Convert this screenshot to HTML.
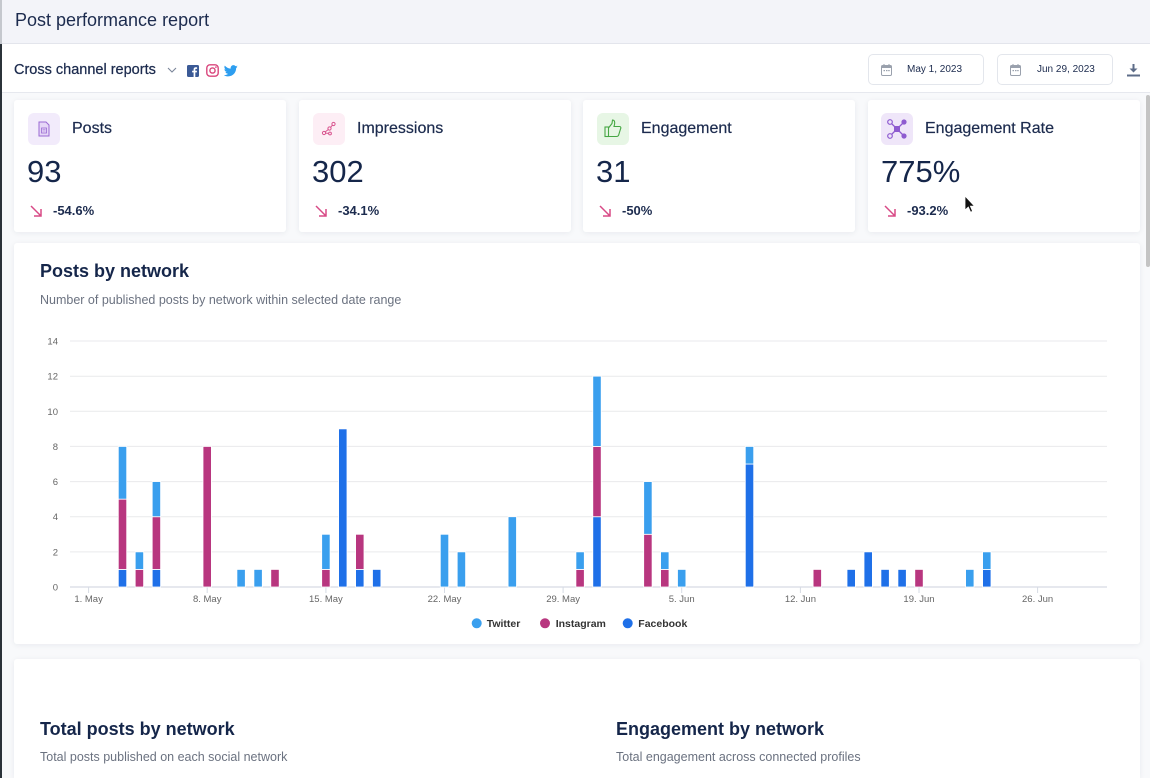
<!DOCTYPE html>
<html>
<head>
<meta charset="utf-8">
<style>
*{margin:0;padding:0;box-sizing:border-box;}
html,body{width:1150px;height:778px;overflow:hidden;background:#f8f9fb;font-family:"Liberation Sans",Arial,sans-serif;color:#1b2b4d;}
.abs{position:absolute;}
#hdr{left:0;top:0;width:1150px;height:44px;background:#f3f4f9;border-bottom:1px solid #e3e5ec;}
#hdr .t{position:absolute;left:15px;top:10px;font-size:18px;color:#1c2b4e;}
#bar{left:0;top:44px;width:1150px;height:49px;background:#fff;border-bottom:1px solid #e6e8ee;}
.ccr{position:absolute;left:14px;top:18px;font-size:14.5px;color:#1c2b4e;-webkit-text-stroke:0.25px #1c2b4e;}
.date{position:absolute;top:10px;height:31px;border:1px solid #e3e6ec;border-radius:5px;background:#fff;font-size:10px;color:#1c2b4e;}
.card{position:absolute;background:#fff;border-radius:3px;box-shadow:0 1px 6px rgba(30,40,70,0.07);}
.kpi .ib{position:absolute;left:14px;top:13px;width:32px;height:32px;border-radius:6px;}
.kpi .lb{position:absolute;left:58px;top:20px;font-size:16px;color:#1c2b4e;-webkit-text-stroke:0.2px #1c2b4e;}
.kpi .num{position:absolute;left:13px;top:54px;font-size:31px;color:#15264a;}
.kpi .ch{position:absolute;left:39px;top:103px;font-size:13px;font-weight:bold;color:#1c2b4e;}
.kpi svg.ar{position:absolute;left:15px;top:104px;}
.h2{position:absolute;font-size:18px;font-weight:bold;color:#15264a;}
.sub{position:absolute;font-size:12.5px;color:#6b7280;}
</style>
</head>
<body>
<div id="hdr" class="abs"><div class="t">Post performance report</div></div>
<div class="abs" style="left:0;top:0;width:2px;height:44px;background:#c5c8ce;"></div>

<div id="bar" class="abs">
  <div class="ccr">Cross channel reports</div>
  <svg class="abs" style="left:166px;top:22px" width="12" height="8" viewBox="0 0 12 8"><path d="M2 2 L6 6 L10 2" fill="none" stroke="#7a8599" stroke-width="1.1"/></svg>
  <svg class="abs" style="left:187px;top:21px" width="12" height="12" viewBox="0 0 12 12"><rect width="12" height="12" rx="1.5" fill="#3b5a96"/><path d="M8.3 12 V7.4 H9.8 L10 5.7 H8.3 V4.7 C8.3 4.2 8.5 3.9 9.1 3.9 H10.1 V2.4 C9.8 2.3 9.3 2.3 8.7 2.3 C7.4 2.3 6.6 3.1 6.6 4.5 V5.7 H5.1 V7.4 H6.6 V12 Z" fill="#fff"/></svg>
  <svg class="abs" style="left:206px;top:20px" width="13" height="13" viewBox="0 0 13 13"><rect x="0.8" y="0.8" width="11.4" height="11.4" rx="3.2" fill="none" stroke="#d9457c" stroke-width="1.4"/><circle cx="6.5" cy="6.5" r="2.6" fill="none" stroke="#d9457c" stroke-width="1.4"/><circle cx="9.9" cy="3.1" r="0.8" fill="#d9457c"/></svg>
  <svg class="abs" style="left:224px;top:21px" width="14" height="12" viewBox="0 0 24 20"><path d="M23.6 2.4c-.9.4-1.8.6-2.8.8 1-.6 1.8-1.6 2.1-2.7-.9.6-2 1-3.1 1.2C18.9.7 17.6 0 16.2 0c-2.7 0-4.8 2.2-4.8 4.8 0 .4 0 .8.1 1.1C7.4 5.700 3.8 3.8 1.4.8.9 1.6.7 2.4.7 3.3c0 1.7.9 3.2 2.2 4-.8 0-1.5-.2-2.2-.6v.1c0 2.300 1.7 4.3 3.9 4.7-.4.1-.8.2-1.3.2-.3 0-.6 0-.9-.1.6 1.9 2.4 3.3 4.5 3.4-1.7 1.3-3.7 2.1-6 2.1-.4 0-.8 0-1.2-.1 2.1 1.4 4.7 2.2 7.4 2.2 8.9 0 13.7-7.4 13.7-13.7v-.6c1-.7 1.8-1.5 2.4-2.5z" fill="#2d9ef0"/></svg>

  <div class="date" style="left:868px;width:116px;">
    <svg class="abs" style="left:12px;top:9px" width="11" height="12" viewBox="0 0 11 12"><rect x="0.5" y="1.5" width="10" height="10" rx="1.2" fill="none" stroke="#9aa1ad" stroke-width="1"/><rect x="0.5" y="1.5" width="10" height="2.5" fill="#9aa1ad"/><rect x="2.5" y="0" width="1" height="2.5" fill="#9aa1ad"/><rect x="7.5" y="0" width="1" height="2.5" fill="#9aa1ad"/><rect x="2.5" y="6" width="1.5" height="1.2" fill="#9aa1ad"/><rect x="5" y="6" width="1.5" height="1.2" fill="#9aa1ad"/><rect x="7.2" y="6" width="1.5" height="1.2" fill="#9aa1ad"/></svg>
    <span class="abs" style="left:38px;top:9px;">May 1, 2023</span>
  </div>
  <div class="date" style="left:997px;width:116px;">
    <svg class="abs" style="left:12px;top:9px" width="11" height="12" viewBox="0 0 11 12"><rect x="0.5" y="1.5" width="10" height="10" rx="1.2" fill="none" stroke="#9aa1ad" stroke-width="1"/><rect x="0.5" y="1.5" width="10" height="2.5" fill="#9aa1ad"/><rect x="2.5" y="0" width="1" height="2.5" fill="#9aa1ad"/><rect x="7.5" y="0" width="1" height="2.5" fill="#9aa1ad"/><rect x="2.5" y="6" width="1.5" height="1.2" fill="#9aa1ad"/><rect x="5" y="6" width="1.5" height="1.2" fill="#9aa1ad"/><rect x="7.2" y="6" width="1.5" height="1.2" fill="#9aa1ad"/></svg>
    <span class="abs" style="left:39px;top:9px;">Jun 29, 2023</span>
  </div>
  <svg class="abs" style="left:1126px;top:20px" width="15" height="13" viewBox="0 0 15 13"><path d="M7.5 0 V7" stroke="#5d6c88" stroke-width="2"/><path d="M3.5 4.5 L7.5 8.5 L11.5 4.5 Z" fill="#5d6c88"/><rect x="1" y="10.5" width="13" height="2" fill="#5d6c88"/></svg>
</div>

<!-- left dark border -->
<div class="abs" style="left:0;top:44px;width:2px;height:734px;background:#2b3239;"></div>
<!-- scrollbar -->
<div class="abs" style="left:1146px;top:95px;width:4px;height:172px;background:#c4c4c4;border-radius:2px;"></div>

<!-- KPI cards -->
<div class="card kpi" style="left:14px;top:100px;width:272px;height:132px;">
  <div class="ib" style="background:#f2ebfb;"><svg class="abs" style="left:10px;top:8px" width="12" height="16" viewBox="0 0 12 16"><path d="M1 1 H8 L11 4 V15 H1 Z" fill="#e6d7f7" stroke="#9a6ad3" stroke-width="1"/><rect x="3.5" y="7" width="5" height="5" fill="none" stroke="#9a6ad3" stroke-width="0.8"/><path d="M4.5 8.5H7.5M4.5 10H7.5" stroke="#9a6ad3" stroke-width="0.6"/></svg></div>
  <div class="lb">Posts</div>
  <div class="num">93</div>
  <svg class="ar" width="14" height="14" viewBox="0 0 14 14"><path d="M2 2 L12 12 M12 5 V12 H5" fill="none" stroke="#d84a86" stroke-width="1.5"/></svg>
  <div class="ch">-54.6%</div>
</div>
<div class="card kpi" style="left:299px;top:100px;width:272px;height:132px;">
  <div class="ib" style="background:#fdeef5;"><svg class="abs" style="left:8px;top:8px" width="16" height="16" viewBox="0 0 16 16"><g fill="none" stroke="#d9558f" stroke-width="1"><circle cx="12.5" cy="3" r="1.6"/><circle cx="8.5" cy="7.5" r="1.6"/><circle cx="3" cy="12" r="1.6"/><circle cx="9" cy="12.5" r="1.4"/><path d="M11.4 4.2 L9.6 6.3 M7.2 8.6 L4.2 10.9 M4.6 12.1 L7.6 12.4"/></g></svg></div>
  <div class="lb">Impressions</div>
  <div class="num">302</div>
  <svg class="ar" width="14" height="14" viewBox="0 0 14 14"><path d="M2 2 L12 12 M12 5 V12 H5" fill="none" stroke="#d84a86" stroke-width="1.5"/></svg>
  <div class="ch">-34.1%</div>
</div>
<div class="card kpi" style="left:583px;top:100px;width:272px;height:132px;">
  <div class="ib" style="background:#e7f6e5;"><svg class="abs" style="left:7px;top:6px" width="18" height="19" viewBox="0 0 18 19"><g fill="none" stroke="#46a744" stroke-width="1.1"><rect x="1" y="8" width="3.5" height="9.5"/><path d="M4.5 9 L8 4.5 L8.5 1 C10.5 1 11 3 10.5 5.5 L10 7.5 H15.5 C16.8 7.5 17.2 8.8 16.5 10 L14.5 16.5 C14 17.3 13.5 17.5 12.5 17.5 H4.5"/></g></svg></div>
  <div class="lb">Engagement</div>
  <div class="num">31</div>
  <svg class="ar" width="14" height="14" viewBox="0 0 14 14"><path d="M2 2 L12 12 M12 5 V12 H5" fill="none" stroke="#d84a86" stroke-width="1.5"/></svg>
  <div class="ch">-50%</div>
</div>
<div class="card kpi" style="left:868px;top:100px;width:272px;height:132px;">
  <div class="ib" style="left:13px;background:#efe6f9;"><svg class="abs" style="left:5px;top:5px" width="22" height="22" viewBox="0 0 22 22"><g stroke="#8e5bd0" stroke-width="1.3" fill="none"><path d="M4 4 L11 11 M18 4 L11 11 M4 18 L11 11 M18 18 L11 11"/></g><rect x="8" y="8" width="6" height="6" fill="#8e5bd0"/><circle cx="4" cy="4" r="2.3" fill="#efe6f9" stroke="#8e5bd0" stroke-width="1.2"/><circle cx="18" cy="4" r="2.6" fill="#8e5bd0"/><circle cx="4" cy="18" r="2.3" fill="#efe6f9" stroke="#8e5bd0" stroke-width="1.2"/><circle cx="18" cy="18" r="2.6" fill="#8e5bd0"/></svg></div>
  <div class="lb" style="left:57px;">Engagement Rate</div>
  <div class="num">775%</div>
  <svg class="ar" width="14" height="14" viewBox="0 0 14 14"><path d="M2 2 L12 12 M12 5 V12 H5" fill="none" stroke="#d84a86" stroke-width="1.5"/></svg>
  <div class="ch">-93.2%</div>
</div>

<!-- chart card -->
<div class="card" style="left:14px;top:243px;width:1126px;height:401px;"></div>
<div class="h2" style="left:40px;top:261px;">Posts by network</div>
<div class="sub" style="left:40px;top:293px;">Number of published posts by network within selected date range</div>

<!-- second card -->
<div class="card" style="left:14px;top:659px;width:1126px;height:119px;border-radius:3px 3px 0 0;"></div>
<div class="h2" style="left:40px;top:719px;">Total posts by network</div>
<div class="sub" style="left:40px;top:750px;">Total posts published on each social network</div>
<div class="h2" style="left:616px;top:719px;">Engagement by network</div>
<div class="sub" style="left:616px;top:750px;">Total engagement across connected profiles</div>

<svg class="abs" style="left:0;top:0" width="1150" height="778" viewBox="0 0 1150 778">
  <g stroke="#e9eaec" stroke-width="1">
    <line x1="70" y1="341" x2="1107" y2="341"/>
    <line x1="70" y1="376.2" x2="1107" y2="376.2"/>
    <line x1="70" y1="411.3" x2="1107" y2="411.3"/>
    <line x1="70" y1="446.4" x2="1107" y2="446.4"/>
    <line x1="70" y1="481.6" x2="1107" y2="481.6"/>
    <line x1="70" y1="516.7" x2="1107" y2="516.7"/>
    <line x1="70" y1="551.9" x2="1107" y2="551.9"/>
  </g>
  <line x1="70" y1="587" x2="1107" y2="587" stroke="#d6dbe4" stroke-width="1.2"/>
  <g stroke="#d6dbe4" stroke-width="1">
    <line x1="88.6" y1="587" x2="88.6" y2="593"/>
    <line x1="207.2" y1="587" x2="207.2" y2="593"/>
    <line x1="325.9" y1="587" x2="325.9" y2="593"/>
    <line x1="444.5" y1="587" x2="444.5" y2="593"/>
    <line x1="563.1" y1="587" x2="563.1" y2="593"/>
    <line x1="681.7" y1="587" x2="681.7" y2="593"/>
    <line x1="800.4" y1="587" x2="800.4" y2="593"/>
    <line x1="919" y1="587" x2="919" y2="593"/>
    <line x1="1037.6" y1="587" x2="1037.6" y2="593"/>
  </g>
  <g font-family="Liberation Sans, Arial, sans-serif" font-size="9.5" fill="#666" text-anchor="end">
    <text x="58" y="344.5">14</text>
    <text x="58" y="379.7">12</text>
    <text x="58" y="414.8">10</text>
    <text x="58" y="449.9">8</text>
    <text x="58" y="485.1">6</text>
    <text x="58" y="520.2">4</text>
    <text x="58" y="555.4">2</text>
    <text x="58" y="590.5">0</text>
  </g>
  <g font-family="Liberation Sans, Arial, sans-serif" font-size="9.5" fill="#666" text-anchor="middle">
    <text x="88.6" y="602">1. May</text>
    <text x="207.2" y="602">8. May</text>
    <text x="325.9" y="602">15. May</text>
    <text x="444.5" y="602">22. May</text>
    <text x="563.1" y="602">29. May</text>
    <text x="681.7" y="602">5. Jun</text>
    <text x="800.4" y="602">12. Jun</text>
    <text x="919" y="602">19. Jun</text>
    <text x="1037.6" y="602">26. Jun</text>
  </g>
  <g stroke="#fff" stroke-width="0.8">
    <rect x="118.3" y="569.43" width="8.4" height="17.57" fill="#1f70e8"/>
    <rect x="118.3" y="499.15" width="8.4" height="70.28" fill="#b8367f"/>
    <rect x="118.3" y="446.44" width="8.4" height="52.71" fill="#3a9fee"/>
    <rect x="135.2" y="569.43" width="8.4" height="17.57" fill="#b8367f"/>
    <rect x="135.2" y="551.86" width="8.4" height="17.57" fill="#3a9fee"/>
    <rect x="152.2" y="569.43" width="8.4" height="17.57" fill="#1f70e8"/>
    <rect x="152.2" y="516.72" width="8.4" height="52.71" fill="#b8367f"/>
    <rect x="152.2" y="481.58" width="8.4" height="35.14" fill="#3a9fee"/>
    <rect x="203.0" y="446.44" width="8.4" height="140.56" fill="#b8367f"/>
    <rect x="236.9" y="569.43" width="8.4" height="17.57" fill="#3a9fee"/>
    <rect x="253.9" y="569.43" width="8.4" height="17.57" fill="#3a9fee"/>
    <rect x="270.8" y="569.43" width="8.4" height="17.57" fill="#b8367f"/>
    <rect x="321.7" y="569.43" width="8.4" height="17.57" fill="#b8367f"/>
    <rect x="321.7" y="534.29" width="8.4" height="35.14" fill="#3a9fee"/>
    <rect x="338.6" y="428.87" width="8.4" height="158.13" fill="#1f70e8"/>
    <rect x="355.6" y="569.43" width="8.4" height="17.57" fill="#1f70e8"/>
    <rect x="355.6" y="534.29" width="8.4" height="35.14" fill="#b8367f"/>
    <rect x="372.5" y="569.43" width="8.4" height="17.57" fill="#1f70e8"/>
    <rect x="440.3" y="534.29" width="8.4" height="52.71" fill="#3a9fee"/>
    <rect x="457.2" y="551.86" width="8.4" height="35.14" fill="#3a9fee"/>
    <rect x="508.1" y="516.72" width="8.4" height="70.28" fill="#3a9fee"/>
    <rect x="575.9" y="569.43" width="8.4" height="17.57" fill="#b8367f"/>
    <rect x="575.9" y="551.86" width="8.4" height="17.57" fill="#3a9fee"/>
    <rect x="592.8" y="516.72" width="8.4" height="70.28" fill="#1f70e8"/>
    <rect x="592.8" y="446.44" width="8.4" height="70.28" fill="#b8367f"/>
    <rect x="592.8" y="376.16" width="8.4" height="70.28" fill="#3a9fee"/>
    <rect x="643.7" y="534.29" width="8.4" height="52.71" fill="#b8367f"/>
    <rect x="643.7" y="481.58" width="8.4" height="52.71" fill="#3a9fee"/>
    <rect x="660.6" y="569.43" width="8.4" height="17.57" fill="#b8367f"/>
    <rect x="660.6" y="551.86" width="8.4" height="17.57" fill="#3a9fee"/>
    <rect x="677.5" y="569.43" width="8.4" height="17.57" fill="#3a9fee"/>
    <rect x="745.3" y="464.01" width="8.4" height="122.99" fill="#1f70e8"/>
    <rect x="745.3" y="446.44" width="8.4" height="17.57" fill="#3a9fee"/>
    <rect x="813.1" y="569.43" width="8.4" height="17.57" fill="#b8367f"/>
    <rect x="847.0" y="569.43" width="8.4" height="17.57" fill="#1f70e8"/>
    <rect x="864.0" y="551.86" width="8.4" height="35.14" fill="#1f70e8"/>
    <rect x="880.9" y="569.43" width="8.4" height="17.57" fill="#1f70e8"/>
    <rect x="897.9" y="569.43" width="8.4" height="17.57" fill="#1f70e8"/>
    <rect x="914.8" y="569.43" width="8.4" height="17.57" fill="#b8367f"/>
    <rect x="965.6" y="569.43" width="8.4" height="17.57" fill="#3a9fee"/>
    <rect x="982.6" y="569.43" width="8.4" height="17.57" fill="#1f70e8"/>
    <rect x="982.6" y="551.86" width="8.4" height="17.57" fill="#3a9fee"/>
  </g>
  <g font-family="Liberation Sans, Arial, sans-serif" font-size="10.5" font-weight="bold" fill="#333">
    <circle cx="476.7" cy="623.3" r="5" fill="#3a9fee"/>
    <text x="486.7" y="627">Twitter</text>
    <circle cx="545" cy="623.3" r="5" fill="#b8367f"/>
    <text x="555.7" y="627">Instagram</text>
    <circle cx="627.7" cy="623.3" r="5" fill="#1f70e8"/>
    <text x="638.3" y="627">Facebook</text>
  </g>
  <path d="M965 196 L965 210 L968.3 207 L970.6 212.2 L972.6 211.3 L970.4 206.2 L974.6 206.2 Z" fill="#111" stroke="#fff" stroke-width="0.8"/>
</svg>
</body>
</html>
